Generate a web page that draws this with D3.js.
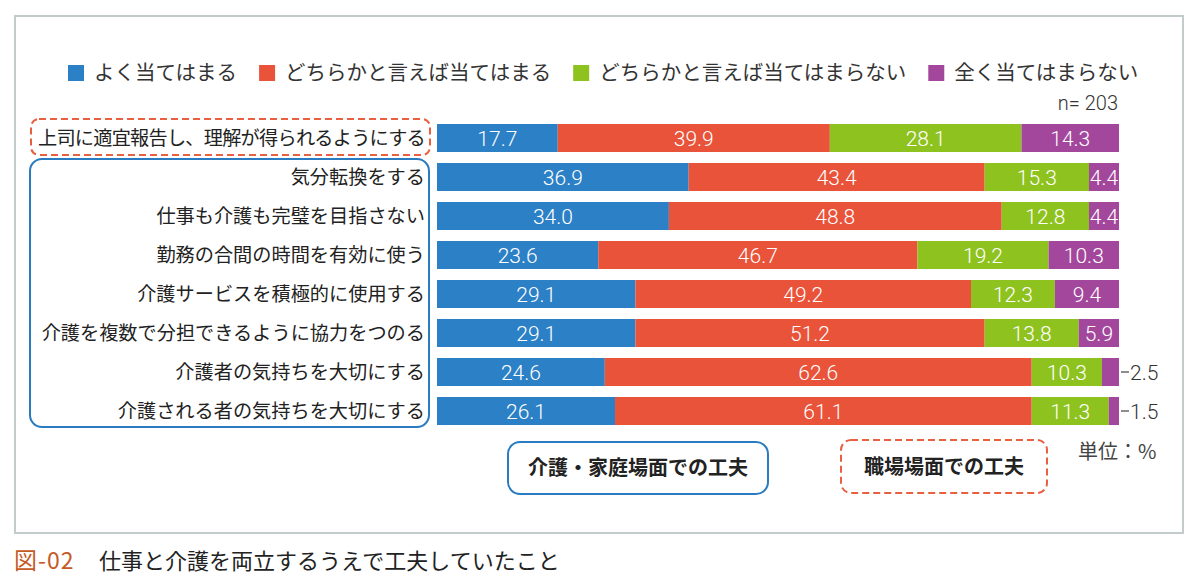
<!DOCTYPE html>
<html>
<head>
<meta charset="utf-8">
<script src="https://cdn.jsdelivr.net/npm/d3@7"></script>
<style>
  html, body { margin: 0; padding: 0; background: #fff; }
  svg { display: block; }
  text { font-family: "Noto Sans CJK JP", "Noto Sans", sans-serif; }
  .num { font-family: Roboto, "Liberation Sans", "Noto Sans", sans-serif; font-weight: 300; }
</style>
</head>
<body>
<svg id="chart" width="1200" height="584"></svg>
<script>
// ---- data ----
const categories = [
  "上司に適宜報告し、理解が得られるようにする",
  "気分転換をする",
  "仕事も介護も完璧を目指さない",
  "勤務の合間の時間を有効に使う",
  "介護サービスを積極的に使用する",
  "介護を複数で分担できるように協力をつのる",
  "介護者の気持ちを大切にする",
  "介護される者の気持ちを大切にする"
];
const seriesNames = ["よく当てはまる", "どちらかと言えば当てはまる", "どちらかと言えば当てはまらない", "全く当てはまらない"];
const veryTrue      = [17.7, 36.9, 34.0, 23.6, 29.1, 29.1, 24.6, 26.1];
const somewhatTrue  = [39.9, 43.4, 48.8, 46.7, 49.2, 51.2, 62.6, 61.1];
const somewhatNot   = [28.1, 15.3, 12.8, 19.2, 12.3, 13.8, 10.3, 11.3];
const notAtAll      = [14.3,  4.4,  4.4, 10.3,  9.4,  5.9,  2.5,  1.5];
const seriesColors  = ["#2b80c6", "#e8533a", "#8ec21f", "#a2479b"];
const sampleLabel = "n= 203";
const unitLabel = "単位：%";
const groupHome = "介護・家庭場面での工夫";
const groupWork = "職場場面での工夫";
const captionNo = "図-02";
const captionText = "仕事と介護を両立するうえで工夫していたこと";

// ---- build table ----
const keys = ["k0", "k1", "k2", "k3"];
const table = categories.map((c, i) => ({
  cat: c, k0: veryTrue[i], k1: somewhatTrue[i], k2: somewhatNot[i], k3: notAtAll[i]
}));
const stacked = d3.stack().keys(keys).offset(d3.stackOffsetExpand)(table);

const svg = d3.select("#chart");

// frame
svg.append("rect").attr("x", 15).attr("y", 16).attr("width", 1168).attr("height", 517)
  .attr("fill", "#fff").attr("stroke", "#c3cbcc").attr("stroke-width", 2);

// scales
const x = d3.scaleLinear().domain([0, 1]).range([437, 1119]);
const y = d3.scaleBand().domain(categories).range([118.5, 430.5]).paddingInner(0.282).paddingOuter(0.141);

// legend
const legend = svg.append("g");
let lx = 68;
seriesNames.forEach((name, i) => {
  legend.append("rect").attr("x", lx).attr("y", 65).attr("width", 16).attr("height", 16).attr("fill", seriesColors[i]);
  const t = legend.append("text").attr("x", lx + 26).attr("y", 73).attr("dy", "0.36em")
    .attr("font-size", 20.5).attr("fill", "#333").text(name);
  lx += 26 + t.node().getComputedTextLength() + 22;
});

// n label
svg.append("text").attr("x", 1118).attr("y", 103).attr("dy", "0.36em").attr("text-anchor", "end")
  .attr("class", "num").attr("font-size", 20).attr("fill", "#333").text(sampleLabel);

// bars
const layers = svg.append("g").selectAll("g").data(stacked).join("g")
  .attr("fill", (d, i) => seriesColors[i]);
layers.selectAll("rect").data(d => d).join("rect")
  .attr("x", d => x(d[0]))
  .attr("y", d => y(d.data.cat))
  .attr("width", d => x(d[1]) - x(d[0]))
  .attr("height", y.bandwidth());

// value labels
stacked.forEach((layer, li) => {
  layer.forEach(d => {
    const v = d.data[keys[li]];
    const cy = y(d.data.cat) + y.bandwidth() / 2;
    const txt = v.toFixed(1);
    if (v >= 4) {
      svg.append("text").attr("class", "num")
        .attr("x", (x(d[0]) + x(d[1])) / 2).attr("y", cy).attr("dy", "0.36em")
        .attr("text-anchor", "middle").attr("font-size", 21).attr("fill", "#fff").text(txt);
    } else {
      const ex = x(d[1]);
      svg.append("line").attr("x1", ex + 2).attr("x2", ex + 10).attr("y1", cy).attr("y2", cy)
        .attr("stroke", "#444").attr("stroke-width", 1.2);
      svg.append("text").attr("class", "num")
        .attr("x", ex + 11).attr("y", cy).attr("dy", "0.36em")
        .attr("font-size", 21).attr("fill", "#333").text(txt);
    }
  });
});

// category labels (fit into the label column where needed)
const maxLabelWidth = 387;
svg.append("g").selectAll("text").data(categories).join("text")
  .attr("x", 425).attr("y", d => y(d) + y.bandwidth() / 2).attr("dy", "0.36em")
  .attr("text-anchor", "end").attr("font-size", 19.2).attr("fill", "#222").text(d => d)
  .each(function(d) {
    const w = this.getComputedTextLength();
    if (w > maxLabelWidth) {
      d3.select(this).attr("letter-spacing", ((maxLabelWidth - w) / d.length).toFixed(2) + "px");
    }
  });

// group boxes around labels
const b0 = y(categories[0]);
svg.append("rect").attr("x", 31).attr("y", b0 - 5).attr("width", 399).attr("height", y.bandwidth() + 8)
  .attr("rx", 8).attr("fill", "none").attr("stroke", "#e8603f").attr("stroke-width", 2)
  .attr("stroke-dasharray", "7,4");
const b1 = y(categories[1]);
const b7 = y(categories[categories.length - 1]) + y.bandwidth();
svg.append("rect").attr("x", 30).attr("y", b1 - 4).attr("width", 399).attr("height", b7 - b1 + 6)
  .attr("rx", 12).attr("fill", "none").attr("stroke", "#2a7bbf").attr("stroke-width", 2);

// bottom group keys
svg.append("rect").attr("x", 508).attr("y", 442).attr("width", 260).attr("height", 52)
  .attr("rx", 12).attr("fill", "#fff").attr("stroke", "#2a7bbf").attr("stroke-width", 2);
svg.append("text").attr("x", 638).attr("y", 468).attr("dy", "0.36em").attr("text-anchor", "middle")
  .attr("font-size", 20).attr("font-weight", 700).attr("fill", "#222").text(groupHome);

svg.append("rect").attr("x", 841).attr("y", 440).attr("width", 206).attr("height", 53)
  .attr("rx", 10).attr("fill", "#fff").attr("stroke", "#e8603f").attr("stroke-width", 2)
  .attr("stroke-dasharray", "7,4");
svg.append("text").attr("x", 944).attr("y", 467).attr("dy", "0.36em").attr("text-anchor", "middle")
  .attr("font-size", 20).attr("font-weight", 700).attr("fill", "#222").text(groupWork);

svg.append("text").attr("x", 1078).attr("y", 452).attr("dy", "0.36em")
  .attr("font-size", 20).attr("fill", "#444").text(unitLabel);

// caption
svg.append("text").attr("x", 14).attr("y", 561).attr("dy", "0.36em")
  .attr("font-size", 23).attr("letter-spacing", "1px").attr("fill", "#c65a25").text(captionNo);
svg.append("text").attr("x", 99).attr("y", 561).attr("dy", "0.36em")
  .attr("font-size", 22).attr("fill", "#222").text(captionText);
</script>
</body>
</html>
